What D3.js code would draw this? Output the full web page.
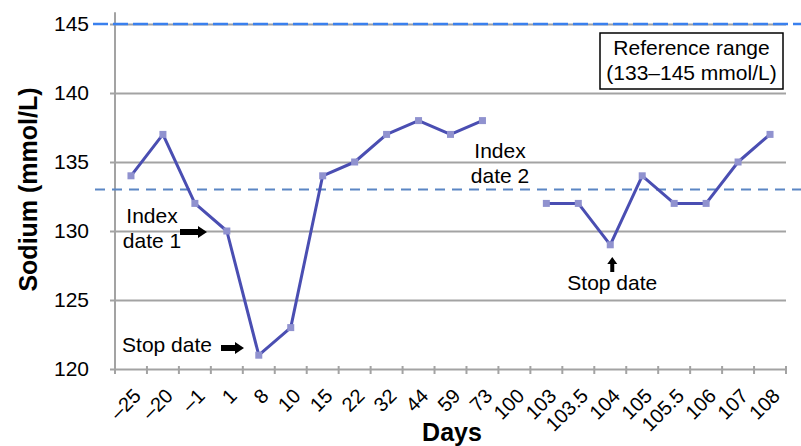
<!DOCTYPE html>
<html>
<head>
<meta charset="utf-8">
<script src="https://cdn.jsdelivr.net/npm/d3@7"></script>
<style>
  body { margin: 0; background: #fff; }
  svg { display: block; font-family: "Liberation Sans", Arial, sans-serif; }
</style>
</head>
<body>
<div id="chart"></div>
<script>
// data
const days = ["–25", "–20", "–1", "1", "8", "10", "15", "22", "32", "44", "59", "73",
              "100", "103", "103.5", "104", "105", "105.5", "106", "107", "108"];
const sodium = [134, 137, 132, 130, 121, 123, 134, 135, 137, 138, 137, 138,
                null, 132, 132, 129, 134, 132, 132, 135, 137];
const yTicks = [120, 125, 130, 135, 140, 145];
const refLow = 133;
const refHigh = 145;

const width = 801;
const height = 446;
const margin = { top: 24, left: 115, bottom: 77, right: 15 };

const svg = d3.select("#chart").append("svg")
    .attr("width", width)
    .attr("height", height);

const x = d3.scaleBand().domain(days).range([margin.left, width - margin.right]);
const y = d3.scaleLinear().domain([120, 145]).range([height - margin.bottom, margin.top]);
const cx = d => x(d) + x.bandwidth() / 2;

const gridColor = "#a3a3a3";

// horizontal grid + y labels
const yAxis = svg.append("g")
    .attr("transform", `translate(${margin.left},0)`)
    .call(d3.axisLeft(y).tickValues(yTicks).tickSize(-(width - margin.right - margin.left)).tickPadding(26)
        .tickFormat(d3.format("d")));
yAxis.select(".domain").remove();
yAxis.selectAll(".tick line")
    .attr("x1", -5)
    .attr("stroke", gridColor)
    .attr("stroke-width", 2);
yAxis.selectAll(".tick text")
    .attr("fill", "#000")
    .style("font-size", "21px");

// vertical axis line
svg.append("line")
    .attr("x1", margin.left).attr("x2", margin.left)
    .attr("y1", y(120)).attr("y2", y(145.85))
    .attr("stroke", gridColor)
    .attr("stroke-width", 2);

// x axis ticks at band edges
const edges = days.map(d => x(d)).concat([x.range()[1]]);
svg.append("g").selectAll("line")
    .data(edges)
    .join("line")
    .attr("x1", d => d).attr("x2", d => d)
    .attr("y1", y(120) - 3).attr("y2", y(120) + 5)
    .attr("stroke", gridColor)
    .attr("stroke-width", 2);

const xAxis = svg.append("g")
    .attr("transform", `translate(0,${y(120)})`)
    .call(d3.axisBottom(x).tickSize(0).tickPadding(0));
xAxis.select(".domain").remove();
xAxis.selectAll(".tick text")
    .attr("fill", "#000")
    .style("font-size", "20px")
    .attr("text-anchor", "end")
    .attr("dy", null)
    .attr("transform", "translate(1,18) rotate(-45)")
    .attr("y", 0)
    .attr("dominant-baseline", "hanging");

// reference range lines
svg.append("line")
    .attr("x1", 93).attr("x2", width)
    .attr("y1", y(refHigh)).attr("y2", y(refHigh))
    .attr("stroke", "#3a80ee")
    .attr("stroke-width", 2.5)
    .attr("stroke-dasharray", "15,5");

svg.append("line")
    .attr("x1", 95).attr("x2", width)
    .attr("y1", y(refLow)).attr("y2", y(refLow))
    .attr("stroke", "#5b86c4")
    .attr("stroke-width", 2)
    .attr("stroke-dasharray", "10,7");

// sodium line
const line = d3.line()
    .defined(d => d[1] != null)
    .x(d => cx(d[0]))
    .y(d => y(d[1]));

const series = days.map((d, i) => [d, sodium[i]]);

svg.append("path")
    .attr("d", line(series))
    .attr("fill", "none")
    .attr("stroke", "#4a4eb2")
    .attr("stroke-width", 3)
    .attr("stroke-linejoin", "round");

svg.append("g").selectAll("rect")
    .data(series.filter(d => d[1] != null))
    .join("rect")
    .attr("x", d => cx(d[0]) - 3.5)
    .attr("y", d => y(d[1]) - 3.5)
    .attr("width", 7)
    .attr("height", 7)
    .attr("fill", "#9092cf");

// axis titles
svg.append("text")
    .attr("transform", `translate(37,${(y(120) + y(145)) / 2 - 7}) rotate(-90)`)
    .attr("text-anchor", "middle")
    .style("font-size", "25px")
    .style("font-weight", "bold")
    .text("Sodium (mmol/L)");

svg.append("text")
    .attr("x", 452)
    .attr("y", 441)
    .attr("text-anchor", "middle")
    .style("font-size", "25px")
    .style("font-weight", "bold")
    .text("Days");

// reference range box
const box = svg.append("g");
box.append("rect")
    .attr("x", 600).attr("y", 33)
    .attr("width", 183).attr("height", 56)
    .attr("fill", "#fff")
    .attr("stroke", "#000")
    .attr("stroke-width", 1.5);
box.append("text")
    .attr("x", 691.5).attr("y", 55)
    .attr("text-anchor", "middle")
    .style("font-size", "21px")
    .text("Reference range");
box.append("text")
    .attr("x", 691.5).attr("y", 80)
    .attr("text-anchor", "middle")
    .style("font-size", "21px")
    .text("(133–145 mmol/L)");

// annotations
function arrowRight(x0, x1, yy) {
    return `M${x0},${yy - 3}L${x1 - 9},${yy - 3}L${x1 - 9},${yy - 6}L${x1},${yy}L${x1 - 9},${yy + 6}L${x1 - 9},${yy + 3}L${x0},${yy + 3}Z`;
}
function arrowUp(xx, y0, y1) {
    return `M${xx - 2},${y0}L${xx - 2},${y1 + 7}L${xx - 5},${y1 + 7}L${xx},${y1}L${xx + 5},${y1 + 7}L${xx + 2},${y1 + 7}L${xx + 2},${y0}Z`;
}

function label(lines, xx, yy) {
    const t = svg.append("text")
        .attr("text-anchor", "middle")
        .style("font-size", "21px");
    lines.forEach((s, i) => t.append("tspan").attr("x", xx).attr("y", yy + i * 25).text(s));
}

label(["Index", "date 1"], 152, 223);
svg.append("path").attr("d", arrowRight(180, 207, y(130) + 1)).attr("fill", "#000");

label(["Stop date"], 167, 352);
svg.append("path").attr("d", arrowRight(221, 244, 348)).attr("fill", "#000");

label(["Index", "date 2"], 500, 158);

label(["Stop date"], cx("104") + 2, 290);
svg.append("path").attr("d", arrowUp(cx("104") + 2, 272, 257)).attr("fill", "#000");
</script>
</body>
</html>
